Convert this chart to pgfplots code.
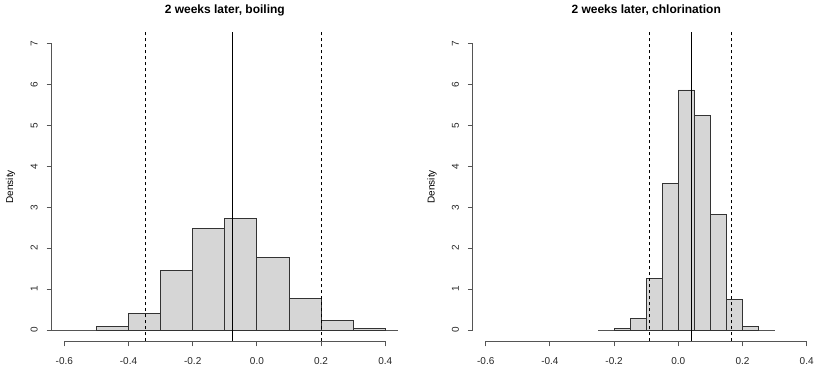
\documentclass[border=0pt]{standalone}
\usepackage{pgfplots}
\pgfplotsset{compat=1.18}
\usepackage{fontspec}
\setmainfont{Liberation Sans}
\definecolor{barfill}{HTML}{D6D6D6}
\definecolor{baredge}{HTML}{333333}
\definecolor{axcol}{HTML}{555555}
\pgfplotsset{
  rhist/.style={
    scale only axis, width=346.6pt, height=309.2pt,
    xmin=-0.64, xmax=0.44, ymin=-0.28, ymax=7.28,
    axis line style={draw=none},
    xtick={-0.6,-0.4,-0.2,0,0.2,0.4},
    xticklabels={-0.6,-0.4,-0.2,0.0,0.2,0.4},
    ytick={0,1,2,3,4,5,6,7},
    xtick pos=lower, ytick pos=left,
    tick align=outside, major tick length=5pt,
    tick style={axcol, line width=0.9pt},
    /pgf/number format/assume math mode=true,
    ticklabel style={font=\fontsize{10}{12}\selectfont, text=black!85},
    xticklabel style={yshift=-8pt},
    yticklabel style={xshift=-9pt, rotate=90, anchor=base},
    ylabel={Density},
    ylabel style={at={(axis description cs:-0.118,0.5)}, anchor=center, font=\fontsize{10}{12}\selectfont},
    title style={at={(axis description cs:0.5,1)}, anchor=base, yshift=12.5pt, font=\bfseries\fontsize{12}{14}\selectfont},
    clip=false,
  }
}
\begin{document}
\begin{tikzpicture}[x=1pt,y=1pt]
\useasboundingbox (0,0) rectangle (814,369);
% left
\begin{axis}[rhist, at={(51.5pt,27.55pt)}, anchor=south west,
  title={2 weeks later, boiling}]
\addplot[axcol, line width=0.9pt] coordinates {(-0.64,0) (0.44,0)};
\addplot[ybar interval, fill=barfill, draw=baredge, line width=0.8pt] coordinates {
(-0.5,0.08) (-0.4,0.41) (-0.3,1.45) (-0.2,2.49) (-0.1,2.73) (0.0,1.77) (0.1,0.78) (0.2,0.23) (0.3,0.03) (0.4,0.03)};
\addplot[black, line width=0.8pt, dash pattern=on 3pt off 3pt] coordinates {(-0.346,-0.28) (-0.346,7.28)};
\addplot[black, line width=0.8pt] coordinates {(-0.0766,-0.28) (-0.0766,7.28)};
\addplot[black, line width=0.8pt, dash pattern=on 3pt off 3pt] coordinates {(0.2006,-0.28) (0.2006,7.28)};
\draw[axcol, line width=0.9pt] (axis cs:-0.6,-0.28) -- (axis cs:0.4,-0.28);
\draw[axcol, line width=0.9pt] (axis cs:-0.64,0) -- (axis cs:-0.64,7);
\end{axis}
% right
\begin{axis}[rhist, at={(472.9pt,27.55pt)}, anchor=south west,
  title={2 weeks later, chlorination}]
\addplot[axcol, line width=0.9pt] coordinates {(-0.25,0) (0.3,0)};
\addplot[ybar interval, fill=barfill, draw=baredge, line width=0.8pt] coordinates {
(-0.2,0.04) (-0.15,0.28) (-0.1,1.26) (-0.05,3.59) (0.0,5.87) (0.05,5.25) (0.1,2.82) (0.15,0.75) (0.2,0.09) (0.25,0.09)};
\addplot[black, line width=0.8pt, dash pattern=on 3pt off 3pt] coordinates {(-0.089,-0.28) (-0.089,7.28)};
\addplot[black, line width=0.8pt] coordinates {(0.041,-0.28) (0.041,7.28)};
\addplot[black, line width=0.8pt, dash pattern=on 3pt off 3pt] coordinates {(0.164,-0.28) (0.164,7.28)};
\draw[axcol, line width=0.9pt] (axis cs:-0.6,-0.28) -- (axis cs:0.4,-0.28);
\draw[axcol, line width=0.9pt] (axis cs:-0.64,0) -- (axis cs:-0.64,7);
\end{axis}
\end{tikzpicture}
\end{document}
